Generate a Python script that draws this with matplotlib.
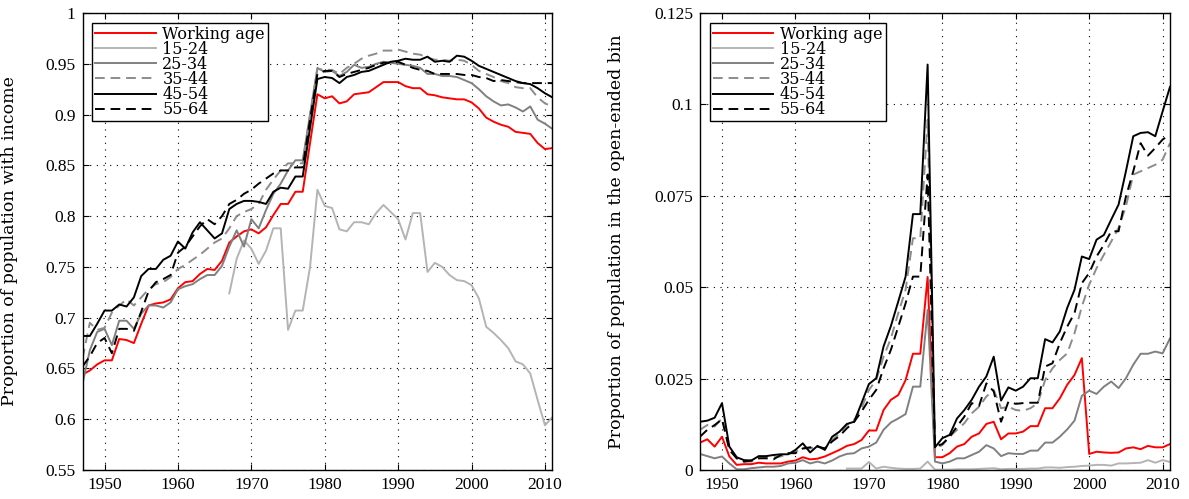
import numpy as np
import matplotlib
matplotlib.use("Agg")
import matplotlib.pyplot as plt

years = np.arange(1947, 2012)
nan = np.nan

# share of population with income
inc_work = [0.644, 0.648, 0.654, 0.658, 0.658, 0.679, 0.678, 0.675, 0.694, 0.712,
            0.714, 0.715, 0.718, 0.729, 0.735, 0.736, 0.743, 0.748, 0.747, 0.756,
            0.774, 0.780, 0.785, 0.787, 0.783, 0.789, 0.801, 0.812, 0.812, 0.824,
            0.824, 0.872, 0.920, 0.916, 0.918, 0.911, 0.913, 0.920, 0.921, 0.922,
            0.927, 0.932, 0.932, 0.932, 0.928, 0.926, 0.926, 0.920, 0.919, 0.917,
            0.916, 0.915, 0.915, 0.912, 0.906, 0.897, 0.893, 0.890, 0.888, 0.883,
            0.882, 0.881, 0.872, 0.866, 0.867]
inc_15_24 = [nan] * 20 + [
            0.724, 0.758, 0.776, 0.768, 0.753, 0.766, 0.788, 0.788, 0.688, 0.707,
            0.707, 0.750, 0.826, 0.810, 0.808, 0.787, 0.785, 0.794, 0.794, 0.792,
            0.803, 0.811, 0.804, 0.797, 0.777, 0.803, 0.803, 0.745, 0.754, 0.750,
            0.742, 0.737, 0.736, 0.732, 0.719, 0.691, 0.685, 0.678, 0.670, 0.657,
            0.654, 0.645, 0.619, 0.594, 0.602]
inc_25_34 = [0.635, 0.668, 0.686, 0.689, 0.673, 0.697, 0.697, 0.689, 0.704, 0.712,
             0.712, 0.710, 0.715, 0.728, 0.731, 0.733, 0.738, 0.742, 0.742, 0.751,
             0.770, 0.786, 0.770, 0.797, 0.788, 0.806, 0.822, 0.832, 0.845, 0.855,
             0.855, 0.900, 0.946, 0.942, 0.943, 0.938, 0.942, 0.949, 0.946, 0.947,
             0.950, 0.952, 0.951, 0.950, 0.949, 0.948, 0.946, 0.940, 0.940, 0.938,
             0.938, 0.937, 0.934, 0.931, 0.925, 0.918, 0.913, 0.909, 0.910, 0.907,
             0.903, 0.908, 0.895, 0.891, 0.886]
inc_35_44 = [0.660, 0.695, 0.688, 0.690, 0.705, 0.712, 0.718, 0.712, 0.720, 0.728,
             0.733, 0.735, 0.740, 0.748, 0.752, 0.757, 0.762, 0.768, 0.774, 0.778,
             0.788, 0.800, 0.804, 0.807, 0.812, 0.826, 0.836, 0.845, 0.852, 0.852,
             0.852, 0.900, 0.945, 0.944, 0.944, 0.940, 0.946, 0.950, 0.955, 0.958,
             0.960, 0.963, 0.963, 0.964, 0.962, 0.960, 0.959, 0.956, 0.954, 0.954,
             0.953, 0.954, 0.953, 0.949, 0.943, 0.940, 0.937, 0.933, 0.931, 0.927,
             0.926, 0.926, 0.917, 0.911, 0.908]
inc_45_54 = [0.682, 0.682, 0.694, 0.707, 0.707, 0.713, 0.711, 0.720, 0.741, 0.748,
             0.748, 0.757, 0.761, 0.775, 0.768, 0.784, 0.794, 0.786, 0.778, 0.783,
             0.807, 0.812, 0.815, 0.815, 0.814, 0.812, 0.824, 0.828, 0.827, 0.839,
             0.839, 0.887, 0.935, 0.937, 0.936, 0.931, 0.937, 0.939, 0.942, 0.943,
             0.946, 0.949, 0.952, 0.953, 0.955, 0.954, 0.954, 0.957, 0.952, 0.953,
             0.952, 0.958, 0.957, 0.953, 0.948, 0.945, 0.942, 0.939, 0.936, 0.933,
             0.931, 0.930, 0.926, 0.921, 0.917]
inc_55_64 = [0.652, 0.662, 0.675, 0.680, 0.665, 0.689, 0.689, 0.687, 0.706, 0.726,
             0.735, 0.738, 0.742, 0.764, 0.770, 0.780, 0.790, 0.797, 0.792, 0.800,
             0.812, 0.816, 0.822, 0.826, 0.832, 0.837, 0.842, 0.845, 0.845, 0.848,
             0.848, 0.895, 0.940, 0.943, 0.943, 0.937, 0.940, 0.942, 0.944, 0.946,
             0.949, 0.951, 0.951, 0.952, 0.949, 0.946, 0.944, 0.943, 0.940, 0.940,
             0.940, 0.940, 0.939, 0.939, 0.937, 0.936, 0.933, 0.934, 0.933, 0.932,
             0.931, 0.931, 0.931, 0.931, 0.931]

# share of population in the open-ended bin
top_work = [0.0075, 0.0084, 0.0064, 0.0091, 0.0037, 0.0014, 0.0016, 0.0016, 0.0020, 0.0018,
            0.0018, 0.0018, 0.0023, 0.0026, 0.0035, 0.0029, 0.0031, 0.0037, 0.0046, 0.0055,
            0.0066, 0.0071, 0.0082, 0.0108, 0.0108, 0.0164, 0.0192, 0.0205, 0.0246, 0.0318,
            0.0318, 0.0528, 0.0035, 0.0035, 0.0046, 0.0064, 0.0071, 0.0091, 0.0100, 0.0126,
            0.0132, 0.0084, 0.0100, 0.0100, 0.0105, 0.0120, 0.0120, 0.0169, 0.0169, 0.0196,
            0.0233, 0.0260, 0.0306, 0.0044, 0.0050, 0.0048, 0.0047, 0.0048, 0.0059, 0.0062,
            0.0057, 0.0066, 0.0062, 0.0062, 0.0071]
top_15_24 = [nan] * 20 + [
            0.0004, 0.0004, 0.0004, 0.0022, 0.0004, 0.0009, 0.0006, 0.0004, 0.0003, 0.0003,
            0.0004, 0.0023, 0.0001, 0.0001, 0.0001, 0.0002, 0.0002, 0.0002, 0.0003, 0.0004,
            0.0005, 0.0002, 0.0003, 0.0003, 0.0003, 0.0004, 0.0004, 0.0007, 0.0007, 0.0006,
            0.0008, 0.0009, 0.0011, 0.0012, 0.0014, 0.0014, 0.0012, 0.0018, 0.0018, 0.0019,
            0.0020, 0.0027, 0.0020, 0.0027, 0.0022]
top_25_34 = [0.0044, 0.0038, 0.0032, 0.0037, 0.0018, 0.0002, 0.0002, 0.0005, 0.0007, 0.0009,
             0.0009, 0.0011, 0.0018, 0.0020, 0.0027, 0.0018, 0.0023, 0.0018, 0.0026, 0.0037,
             0.0044, 0.0046, 0.0059, 0.0064, 0.0075, 0.0110, 0.0130, 0.0141, 0.0153, 0.0228,
             0.0228, 0.0438, 0.0023, 0.0018, 0.0023, 0.0032, 0.0032, 0.0041, 0.0050, 0.0068,
             0.0059, 0.0038, 0.0046, 0.0044, 0.0044, 0.0053, 0.0053, 0.0075, 0.0075, 0.0091,
             0.0111, 0.0135, 0.0203, 0.0217, 0.0208, 0.0228, 0.0242, 0.0224, 0.0251, 0.0288,
             0.0318, 0.0318, 0.0324, 0.0319, 0.0360]
top_35_44 = [0.0110, 0.0123, 0.0119, 0.0141, 0.0059, 0.0032, 0.0023, 0.0023, 0.0032, 0.0035,
             0.0035, 0.0037, 0.0044, 0.0050, 0.0059, 0.0059, 0.0064, 0.0059, 0.0082, 0.0100,
             0.0123, 0.0137, 0.0169, 0.0219, 0.0246, 0.0310, 0.0360, 0.0429, 0.0493, 0.0634,
             0.0634, 0.0958, 0.0059, 0.0068, 0.0091, 0.0110, 0.0128, 0.0155, 0.0173, 0.0201,
             0.0219, 0.0169, 0.0173, 0.0164, 0.0162, 0.0169, 0.0183, 0.0246, 0.0278, 0.0301,
             0.0319, 0.0374, 0.0447, 0.0507, 0.0552, 0.0589, 0.0625, 0.0662, 0.0721, 0.0808,
             0.0817, 0.0826, 0.0835, 0.0849, 0.0894]
top_45_54 = [0.0132, 0.0135, 0.0143, 0.0183, 0.0064, 0.0035, 0.0027, 0.0026, 0.0038, 0.0038,
             0.0041, 0.0043, 0.0043, 0.0055, 0.0073, 0.0048, 0.0066, 0.0055, 0.0091, 0.0105,
             0.0126, 0.0132, 0.0183, 0.0235, 0.0251, 0.0338, 0.0394, 0.0461, 0.0529, 0.0700,
             0.0700, 0.1109, 0.0062, 0.0087, 0.0096, 0.0141, 0.0164, 0.0192, 0.0228, 0.0256,
             0.0310, 0.0190, 0.0226, 0.0217, 0.0228, 0.0251, 0.0251, 0.0358, 0.0349, 0.0379,
             0.0443, 0.0493, 0.0584, 0.0577, 0.0630, 0.0643, 0.0685, 0.0726, 0.0817, 0.0913,
             0.0922, 0.0924, 0.0913, 0.0981, 0.1048]
top_55_64 = [0.0091, 0.0110, 0.0123, 0.0139, 0.0055, 0.0032, 0.0023, 0.0026, 0.0032, 0.0032,
             0.0029, 0.0041, 0.0046, 0.0046, 0.0059, 0.0062, 0.0064, 0.0059, 0.0078, 0.0093,
             0.0114, 0.0132, 0.0160, 0.0192, 0.0219, 0.0278, 0.0329, 0.0392, 0.0456, 0.0529,
             0.0529, 0.0808, 0.0064, 0.0071, 0.0091, 0.0119, 0.0146, 0.0183, 0.0175, 0.0237,
             0.0215, 0.0132, 0.0187, 0.0181, 0.0183, 0.0184, 0.0184, 0.0283, 0.0292, 0.0347,
             0.0392, 0.0429, 0.0511, 0.0539, 0.0584, 0.0616, 0.0653, 0.0653, 0.0748, 0.0817,
             0.0894, 0.0860, 0.0881, 0.0904, 0.0917]

labels = ["Working age", "15-24", "25-34", "35-44", "45-54", "55-64"]
styles = [("#ff0000", "-"), ("#b4b4b4", "-"), ("#808080", "-"),
          ("#8c8c8c", (0, (5, 3))), ("#000000", "-"), ("#000000", (0, (5, 3)))]

plt.rcParams["font.family"] = ["Liberation Serif", "DejaVu Serif"]

fig = plt.figure(figsize=(11.89, 4.99), dpi=100)
ax1 = fig.add_axes([0.0694, 0.0581, 0.3951, 0.9158])
ax2 = fig.add_axes([0.5887, 0.0581, 0.3953, 0.9158])

panels = [
    (ax1, [inc_work, inc_15_24, inc_25_34, inc_35_44, inc_45_54, inc_55_64],
     (0.55, 1.0), np.arange(0.55, 1.001, 0.05), "Proportion of population with income", -0.137),
    (ax2, [top_work, top_15_24, top_25_34, top_35_44, top_45_54, top_55_64],
     (0.0, 0.125), np.arange(0.0, 0.1251, 0.025), "Proportion of population in the open-ended bin", -0.16),
]

for ax, series, ylim, yticks, ylab, labx in panels:
    for vals, lab, (col, ls) in zip(series, labels, styles):
        ax.plot(years, vals, color=col, linestyle=ls, linewidth=1.4, label=lab)
    ax.set_xlim(1947, 2011)
    ax.set_ylim(*ylim)
    ax.set_xticks(np.arange(1950, 2011, 10))
    ax.set_yticks(yticks)
    ax.set_yticklabels([f"{t:g}" for t in yticks])
    ax.grid(True, color="black", linestyle=(0, (1, 5)), linewidth=0.8)
    ax.tick_params(direction="in", length=4, top=True, right=True, labelsize=12.5, pad=5)
    for sp in ax.spines.values():
        sp.set_linewidth(1.0)
    ax.set_ylabel(ylab, family="DejaVu Serif", fontsize=12.5)
    ax.yaxis.set_label_coords(labx, 0.5)
    leg = ax.legend(loc="upper left", fancybox=False, framealpha=1, edgecolor="black",
                    prop={"family": "DejaVu Serif", "size": 11.5}, labelspacing=-0.12,
                    handlelength=3.8, handletextpad=0.4, borderpad=0.2,
                    borderaxespad=0.6)
    leg.get_frame().set_linewidth(1.0)

fig.savefig("out.png", dpi=100)
